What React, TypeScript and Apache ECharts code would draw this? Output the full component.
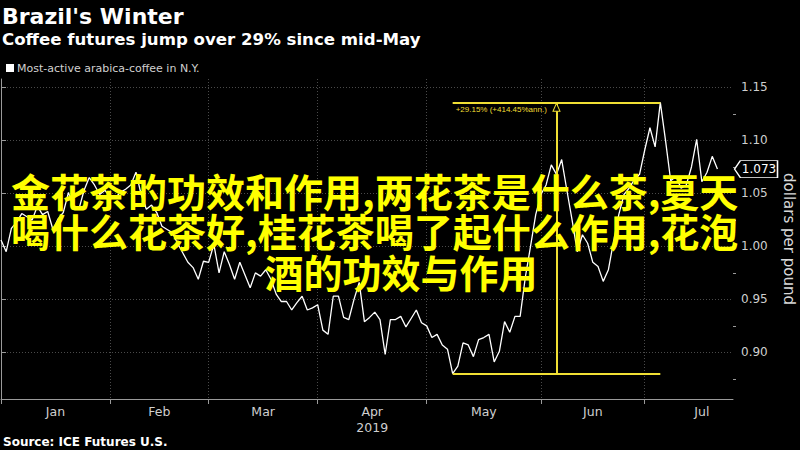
import React, { useEffect, useRef } from 'react';
import * as echarts from 'echarts';

// ---- data ----
const START_DATE = '2019-01-02';
const AXIS_END_DATE = '2019-07-25';
const MONTH_END_DATE = '2019-07-31';
const HOLIDAYS = ['2019-01-21', '2019-02-18', '2019-04-19', '2019-05-27', '2019-07-04'];
const MONTH_LABELS = ['Jan', 'Feb', 'Mar', 'Apr\n2019', 'May', 'Jun', 'Jul'];
const PRICES = [
  1.006, 0.995, 1.017, 1.023, 1.031, 1.028, 1.025, 1.038, 1.030, 1.033,
  1.016, 1.026, 1.032, 1.051, 1.036, 1.035, 1.053, 1.065, 1.058, 1.049,
  1.053, 1.047, 1.046, 1.051, 1.054, 1.058, 1.070, 1.049, 1.035, 1.039,
  1.032, 1.019, 1.016, 1.013, 1.003, 0.994, 0.985, 0.980, 0.969, 0.986,
  0.985, 1.002, 0.975, 0.995, 0.983, 0.969, 0.985, 0.973, 0.961, 0.975,
  0.972, 0.978, 0.969, 0.955, 0.948, 0.948, 0.940, 0.947, 0.953, 0.940,
  0.942, 0.945, 0.921, 0.917, 0.953, 0.953, 0.933, 0.931, 0.950, 0.966,
  0.929, 0.933, 0.938, 0.931, 0.898, 0.931, 0.931, 0.934, 0.924, 0.932,
  0.940, 0.928, 0.925, 0.914, 0.917, 0.907, 0.903, 0.880, 0.887, 0.909,
  0.907, 0.896, 0.912, 0.914, 0.917, 0.891, 0.901, 0.929, 0.919, 0.934,
  0.934, 0.971, 1.000, 1.030, 1.049, 1.058, 1.077, 1.068, 1.082, 1.053,
  1.025, 0.995, 1.011, 1.003, 0.985, 0.981, 0.967, 0.978, 1.005, 1.030,
  1.049, 1.055, 1.063, 1.068, 1.091, 1.112, 1.094, 1.136, 1.100, 1.062,
  1.066, 1.055, 1.058, 1.075, 1.101, 1.061, 1.070, 1.085, 1.073,
];
const Y_TICKS = [0.9, 0.95, 1.0, 1.05, 1.1, 1.15];
const Y_MINOR_TICKS = [0.875, 0.925, 0.975, 1.025, 1.075, 1.125];
const Y_MIN = 0.856;
const Y_MAX = 1.158;
const LOW_INDEX = 87;
const HIGH_INDEX = 127;
const ARROW_INDEX = 107;
const ANNOT_LABEL = '+29.15% (+414.45%ann.)';
const TITLE = "Brazil's Winter";
const SUBTITLE = 'Coffee futures jump over 29% since mid-May';
const LEGEND = 'Most-active arabica-coffee in N.Y.';
const SOURCE = 'Source: ICE Futures U.S.';
const UNIT = 'dollars per pound';
const OVERLAY_LINES = [
  '金花茶的功效和作用,两花茶是什么茶,夏天',
  '喝什么花茶好,桂花茶喝了起什么作用,花泡',
  '酒的功效与作用',
];

// ---- helpers ----
function tradingDays(start: string, end: string): string[] {
  const out: string[] = [];
  const d = new Date(start + 'T00:00:00Z');
  const e = new Date(end + 'T00:00:00Z');
  while (d <= e) {
    const dow = d.getUTCDay();
    const s = d.toISOString().slice(0, 10);
    if (dow !== 0 && dow !== 6 && !HOLIDAYS.includes(s)) out.push(s);
    d.setUTCDate(d.getUTCDate() + 1);
  }
  return out;
}

const ALL_DAYS = tradingDays(START_DATE, MONTH_END_DATE);
const CATEGORIES = ALL_DAYS.filter((s) => s <= AXIS_END_DATE);
const MONTH_STARTS: number[] = [];
ALL_DAYS.forEach((s, i) => {
  if (i === 0 || s.slice(0, 7) !== ALL_DAYS[i - 1].slice(0, 7)) MONTH_STARTS.push(i);
});
MONTH_STARTS.push(ALL_DAYS.length);
const MONTH_CENTERS = MONTH_LABELS.map((_, i) => (MONTH_STARTS[i] + MONTH_STARTS[i + 1]) / 2);
const MONTH_START_SET = new Set(MONTH_STARTS);

const YELLOW = '#f0df34';
const GRID_LINE = { color: '#4a4a4a', width: 1, type: [1, 2] as any };
const LAST = PRICES[PRICES.length - 1];
const LOW = PRICES[LOW_INDEX];
const HIGH = PRICES[HIGH_INDEX];

export default function App() {
  const ref = useRef<HTMLDivElement>(null);
  useEffect(() => {
    const chart = echarts.init(ref.current!, null, { renderer: 'svg' });
    const option: any = {
      animation: false,
      backgroundColor: '#000',
      grid: { left: 1, right: 67, top: 79, bottom: 51, outerBoundsMode: 'none' },
      xAxis: [
        {
          type: 'category',
          position: 'bottom',
          data: CATEGORIES,
          boundaryGap: false,
          axisLine: { show: true, lineStyle: { color: '#9a9a9a', width: 1 } },
          axisTick: {
            show: true,
            length: 5,
            interval: (i: number) => MONTH_START_SET.has(i),
            lineStyle: { color: '#9a9a9a' },
          },
          axisLabel: { show: false },
          splitLine: { show: true, interval: (i: number) => MONTH_START_SET.has(i), lineStyle: GRID_LINE },
        },
        {
          type: 'value',
          position: 'bottom',
          min: 0,
          max: CATEGORIES.length - 1,
          axisLine: { show: false },
          axisTick: { show: false },
          splitLine: { show: false },
          axisLabel: {
            show: true,
            customValues: MONTH_CENTERS,
            margin: 4,
            color: '#cfcfcf',
            fontSize: 12.5,
            lineHeight: 16,
            fontFamily: 'DejaVu Sans',
            formatter: (v: number) => {
              const i = MONTH_CENTERS.findIndex((c) => Math.abs(c - v) < 0.01);
              return i >= 0 ? MONTH_LABELS[i] : '';
            },
          },
        },
      ],
      yAxis: [
        {
          type: 'value',
          position: 'right',
          min: Y_MIN,
          max: Y_MAX,
          axisLine: { show: true, lineStyle: { color: '#9a9a9a', width: 1 } },
          axisTick: { show: true, length: 5, customValues: Y_TICKS, lineStyle: { color: '#9a9a9a' } },
          axisLabel: {
            customValues: Y_TICKS,
            margin: 8,
            color: '#cfcfcf',
            fontSize: 12,
            fontFamily: 'DejaVu Sans',
            formatter: (v: number) => v.toFixed(2),
          },
          splitLine: { show: true, lineStyle: GRID_LINE },
          name: UNIT,
          nameLocation: 'middle',
          nameRotate: -90,
          nameGap: 48,
          nameTextStyle: { color: '#d8d8d8', fontSize: 15, fontFamily: 'DejaVu Sans' },
        },
        {
          type: 'value',
          position: 'right',
          min: Y_MIN,
          max: Y_MAX,
          axisLine: { show: false },
          axisTick: { show: true, length: 3, customValues: Y_MINOR_TICKS, lineStyle: { color: '#9a9a9a' } },
          axisLabel: { show: false, customValues: Y_MINOR_TICKS },
          splitLine: { show: false },
        },
      ],
      series: [
        {
          type: 'line',
          xAxisIndex: 0,
          yAxisIndex: 0,
          data: PRICES,
          symbol: 'none',
          lineStyle: { color: '#ffffff', width: 1.3 },
          z: 3,
          markLine: {
            silent: true,
            symbol: ['none', 'none'],
            lineStyle: { color: YELLOW, width: 2, type: 'solid' },
            label: { show: false },
            data: [
              [{ coord: [LOW_INDEX, LOW] }, { coord: [HIGH_INDEX, LOW] }],
              [
                {
                  coord: [LOW_INDEX, HIGH],
                  label: {
                    show: true,
                    position: 'insideStartBottom',
                    distance: 3,
                    formatter: ANNOT_LABEL,
                    color: YELLOW,
                    fontSize: 8,
                    fontFamily: 'Liberation Sans',
                  },
                },
                { coord: [HIGH_INDEX, HIGH] },
              ],
              [{ coord: [ARROW_INDEX, LOW] }, { coord: [ARROW_INDEX, HIGH] }],
            ],
          },
          markPoint: {
            silent: true,
            data: [
              {
                coord: [ARROW_INDEX, HIGH],
                symbol: 'triangle',
                symbolSize: [7, 8],
                symbolOffset: [0, 5],
                itemStyle: { color: '#000', borderColor: YELLOW, borderWidth: 1 },
                label: { show: false },
              },
              {
                coord: [CATEGORIES.length - 1, LAST],
                symbol: 'path://M0,8L6,0L44,0L44,16L6,16Z',
                symbolKeepAspect: false,
                symbolSize: [43, 17],
                symbolOffset: [23, 0],
                itemStyle: { color: '#000', borderColor: '#ffffff', borderWidth: 1 },
                label: {
                  show: true,
                  position: 'inside',
                  offset: [3, 0],
                  formatter: () => LAST.toFixed(3),
                  color: '#ffffff',
                  fontSize: 12,
                  fontFamily: 'DejaVu Sans',
                },
              },
            ],
          },
        },
      ],
      graphic: [
        {
          type: 'text',
          left: 2,
          top: 5,
          style: { text: TITLE, fill: '#fff', font: 'bold 22px "DejaVu Sans"' },
        },
        {
          type: 'text',
          left: 2,
          top: 31,
          style: { text: SUBTITLE, fill: '#fff', font: 'bold 16.6px "DejaVu Sans"' },
        },
        { type: 'rect', shape: { x: 6, y: 64, width: 8, height: 8 }, style: { fill: '#fff' } },
        {
          type: 'text',
          x: 17,
          y: 68,
          style: { text: LEGEND, fill: '#d0d0d0', font: '11px "DejaVu Sans"', textVerticalAlign: 'middle' },
        },
        {
          type: 'text',
          x: 3,
          y: 442,
          style: { text: SOURCE, fill: '#fff', font: 'bold 12px "DejaVu Sans"', textVerticalAlign: 'middle' },
        },
        {
          type: 'text',
          x: 11,
          y: 230,
          z: 100,
          style: {
            text: `{l|${OVERLAY_LINES[0]}}\n{l|${OVERLAY_LINES[1]}}\n{c|${OVERLAY_LINES[2]}}`,
            width: 780,
            fill: '#ffff00',
            font: 'bold 39px "Noto Sans CJK SC"',
            lineHeight: 40.5,
            textAlign: 'left',
            textVerticalAlign: 'middle',
            rich: {
              l: { align: 'left', lineHeight: 40.5 },
              c: { align: 'center', lineHeight: 40.5 },
            },
          },
        },
      ],
    };
    chart.setOption(option);
    return () => chart.dispose();
  }, []);
  return (
    <div
      ref={ref}
      style={{ position: 'fixed', left: 0, top: 0, width: 800, height: 450, background: '#000' }}
    />
  );
}
